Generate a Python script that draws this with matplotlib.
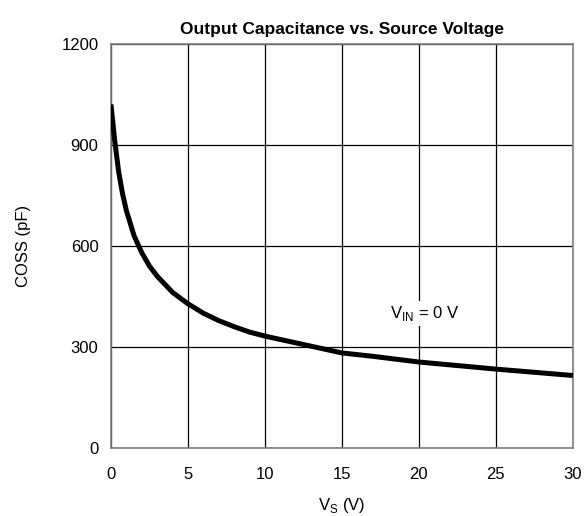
import matplotlib
matplotlib.use("Agg")
import matplotlib.pyplot as plt

plt.rcParams['font.family'] = ['Liberation Sans', 'DejaVu Sans']
plt.rcParams['mathtext.fontset'] = 'custom'
plt.rcParams['mathtext.rm'] = 'Liberation Sans'

# Coss vs Vs curve
vs = [0, 0.25, 0.5, 0.75, 1, 1.5, 2, 2.5, 3, 4, 5, 6, 7, 8, 9, 10, 12, 14, 15, 17, 20, 25, 30]
coss = [1020, 910, 820, 755, 705, 630, 580, 540, 510, 462, 428, 400, 378, 360, 344, 332, 312, 292, 282, 272, 255, 234, 215]

xticks = [0, 5, 10, 15, 20, 25, 30]
yticks = [0, 300, 600, 900, 1200]

fig = plt.figure(figsize=(5.84, 5.16), dpi=100)
ax = fig.add_axes([0.190, 0.132, 0.791, 0.783])

ax.plot(vs, coss, color='black', lw=3.6, solid_capstyle='butt', zorder=3)

ax.set_xlim(0, 30)
ax.set_ylim(0, 1200)
ax.set_xticks(xticks)
ax.set_yticks(yticks)
ax.tick_params(length=0, labelsize=12)
ax.tick_params(axis='x', pad=14)
ax.tick_params(axis='y', pad=9)
ax.grid(True, color='black', lw=0.9)
ax.set_axisbelow(True)
for s in ax.spines.values():
    s.set_color('#808080')
    s.set_linewidth(1.2)

ax.text(20.4, 400, 'V$_\\mathregular{IN}$ = 0 V', fontsize=12, ha='center', va='center',
        bbox=dict(facecolor='white', edgecolor='none', pad=2), zorder=4)

ax.set_title('Output Capacitance vs. Source Voltage', fontsize=12.5, fontweight='bold', pad=7)
ax.set_xlabel('V$_\\mathregular{S}$ (V)', fontsize=12, labelpad=10)
ax.set_ylabel('COSS (pF)', fontsize=12, labelpad=22)

plt.savefig("out.png", dpi=100)
